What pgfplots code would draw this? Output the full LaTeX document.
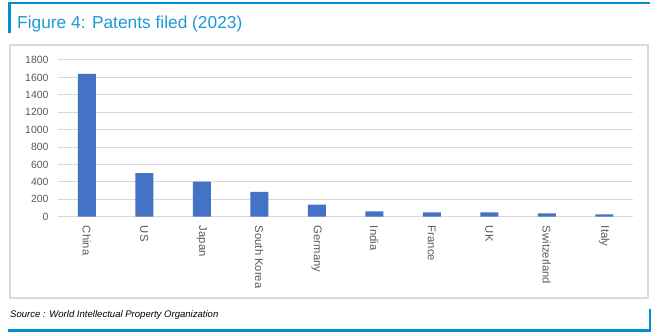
\documentclass[border=0pt]{standalone}
\usepackage{pgfplots}
\pgfplotsset{compat=1.18}
\usepackage{fontspec}
\setmainfont{Liberation Sans}
\definecolor{bblue}{RGB}{0,144,212}
\definecolor{tblue}{RGB}{28,154,214}
\definecolor{barblue}{RGB}{68,114,196}
\definecolor{gridgray}{RGB}{217,217,217}
\definecolor{txtgray}{RGB}{89,89,89}
\begin{document}
\begin{tikzpicture}[x=1bp,y=1bp]
\path[use as bounding box] (0,0) rectangle (657,334);
% decorations
\draw[bblue, line width=2.2bp] (8,331) -- (650,331);
\fill[bblue] (8,301) rectangle (11,332);
\node[anchor=base west, inner sep=0pt, text=tblue, font=\fontsize{17.4}{20}\selectfont] at (17,306) {Figure 4: Patents filed (2023)};
\draw[gridgray, line width=1.5bp] (10,289) rectangle (648,36);
\node[anchor=west, inner sep=0pt, font=\fontsize{9.6}{11}\selectfont\itshape] at (10,19) {Source : World Intellectual Property Organization};
\draw[bblue, line width=2.2bp] (8,3.5) -- (651,3.5);
\draw[bblue, line width=2bp] (650,3.5) -- (650,25);
\begin{axis}[
  at={(58bp,117.3bp)}, anchor=south west,
  scale only axis, width=575bp, height=156.7bp,
  xmin=-0.5, xmax=9.5, ymin=0, ymax=1800,
  axis line style={draw=none},
  ymajorgrids, grid style={gridgray, line width=1bp},
  ytick={0,200,...,1800},
  xtick={0,...,9},
  xticklabels={China,US,Japan,South Korea,Germany,India,France,UK,Switzerland,Italy},
  major tick length=0,
  /pgf/number format/assume math mode=true,
  /pgf/number format/1000 sep={},
  tick label style={text=txtgray},
  yticklabel style={font=\fontsize{10.5}{12}\selectfont, xshift=-6bp},
  xticklabel shift=9bp,
  xticklabel style={font=\fontsize{11.3}{13}\selectfont, rotate=-90, anchor=west, inner sep=0pt},
]
\addplot[ybar, bar width=18bp, fill=barblue, draw=none] coordinates {
(0,1640) (1,500) (2,403) (3,285) (4,138) (5,61) (6,50) (7,50) (8,38) (9,27)
};
\end{axis}
\end{tikzpicture}
\end{document}
